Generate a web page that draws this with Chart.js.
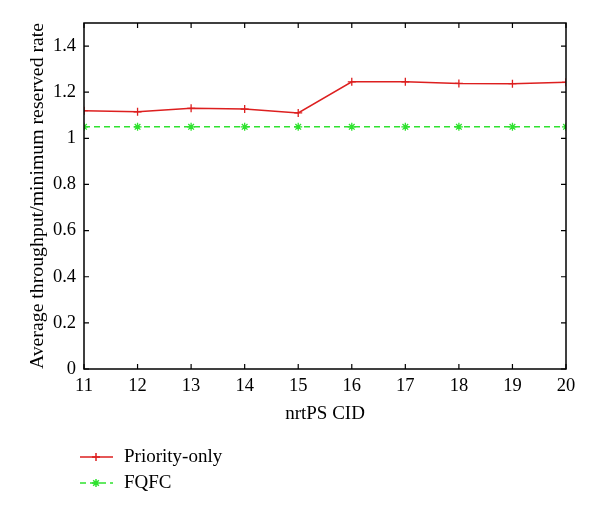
<!DOCTYPE html>
<html>
<head>
<meta charset="utf-8">
<script src="https://cdn.jsdelivr.net/npm/chart.js@4/dist/chart.umd.min.js"></script>
<style>
  html, body { margin: 0; padding: 0; background: #fff; }
  #wrap { width: 600px; height: 514px; position: relative; }
</style>
</head>
<body>
<div id="wrap"><canvas id="chart"></canvas></div>
<script>
const cids = [11, 12, 13, 14, 15, 16, 17, 18, 19, 20];
const priorityOnly = [1.12, 1.115, 1.13, 1.127, 1.11, 1.245, 1.245, 1.238, 1.237, 1.243];
const fqfc = [1.05, 1.05, 1.05, 1.05, 1.05, 1.05, 1.05, 1.05, 1.05, 1.05];
const yTicks = [0, 0.2, 0.4, 0.6, 0.8, 1, 1.2, 1.4];
const seriesNames = ["Priority-only", "FQFC"];

const RED = "#dd1f1f";
const GREEN = "#2fe22f";
const FONT = "'Liberation Serif', 'DejaVu Serif', serif";

// frame + inward ticks on all four sides, like gnuplot
const framePlugin = {
  id: "frame",
  afterDraw(chart) {
    const { ctx, chartArea: a, scales } = chart;
    ctx.save();
    ctx.strokeStyle = "#000";
    ctx.lineWidth = 1.5;
    ctx.strokeRect(a.left, a.top, a.right - a.left, a.bottom - a.top);
    ctx.lineWidth = 1.2;
    ctx.beginPath();
    cids.forEach((c) => {
      const x = scales.x.getPixelForValue(c);
      ctx.moveTo(x, a.bottom); ctx.lineTo(x, a.bottom - 5);
      ctx.moveTo(x, a.top); ctx.lineTo(x, a.top + 5);
    });
    yTicks.forEach((v) => {
      const y = scales.y.getPixelForValue(v);
      ctx.moveTo(a.left, y); ctx.lineTo(a.left + 5, y);
      ctx.moveTo(a.right, y); ctx.lineTo(a.right - 5, y);
    });
    ctx.stroke();

    // legend below the plot
    const items = [
      { name: seriesNames[0], color: RED, dash: [], style: "cross" },
      { name: seriesNames[1], color: GREEN, dash: [6, 4], style: "star" }
    ];
    ctx.font = "19px " + FONT;
    ctx.textBaseline = "middle";
    items.forEach((it, i) => {
      const y = 457 + i * 26;
      ctx.strokeStyle = it.color;
      ctx.lineWidth = 1.5;
      ctx.setLineDash(it.dash);
      ctx.beginPath();
      ctx.moveTo(80, y); ctx.lineTo(113, y);
      ctx.stroke();
      ctx.setLineDash([]);
      Chart.helpers.drawPoint(ctx, { pointStyle: it.style, radius: 4, borderWidth: 1.3 }, 96, y);
      ctx.fillStyle = "#000";
      ctx.fillText(it.name, 124, y);
    });
    ctx.restore();
  }
};

new Chart(document.getElementById("chart"), {
  type: "line",
  data: {
    datasets: [
      {
        label: seriesNames[0],
        data: cids.map((c, i) => ({ x: c, y: priorityOnly[i] })),
        borderColor: RED, backgroundColor: RED,
        borderWidth: 1.5, pointStyle: "cross", pointRadius: 4,
        pointBorderWidth: 1.3, tension: 0
      },
      {
        label: seriesNames[1],
        data: cids.map((c, i) => ({ x: c, y: fqfc[i] })),
        borderColor: GREEN, backgroundColor: GREEN,
        borderWidth: 1.5, borderDash: [6, 4], pointStyle: "star", pointRadius: 4,
        pointBorderWidth: 1.3, tension: 0
      }
    ]
  },
  options: {
    responsive: true,
    maintainAspectRatio: false,
    animation: false,
    layout: { padding: { top: 23, right: 34, bottom: 85, left: 22 } },
    plugins: { legend: { display: false }, tooltip: { enabled: false } },
    scales: {
      x: {
        type: "linear", min: 11, max: 20,
        afterBuildTicks: (s) => { s.ticks = cids.map((v) => ({ value: v })); },
        afterFit: (s) => { s.height = 60; },
        grid: { display: false, drawTicks: false },
        border: { display: false },
        ticks: { color: "#000", padding: 6, font: { family: FONT, size: 18.5 }, maxRotation: 0 },
        title: { display: true, text: "nrtPS CID", color: "#000", padding: { top: 3 }, font: { family: FONT, size: 19 } }
      },
      y: {
        min: 0, max: 1.5,
        afterBuildTicks: (s) => { s.ticks = yTicks.map((v) => ({ value: v })); },
        afterFit: (s) => { s.width = 62; },
        grid: { display: false, drawTicks: false },
        border: { display: false },
        ticks: { color: "#000", padding: 8, font: { family: FONT, size: 18.5 },
                 callback: (v) => String(Math.round(v * 10) / 10) },
        title: { display: true, text: "Average throughput/minimum reserved rate", color: "#000", padding: { bottom: 0 }, font: { family: FONT, size: 19.8 } }
      }
    }
  },
  plugins: [framePlugin]
});
</script>
</body>
</html>
